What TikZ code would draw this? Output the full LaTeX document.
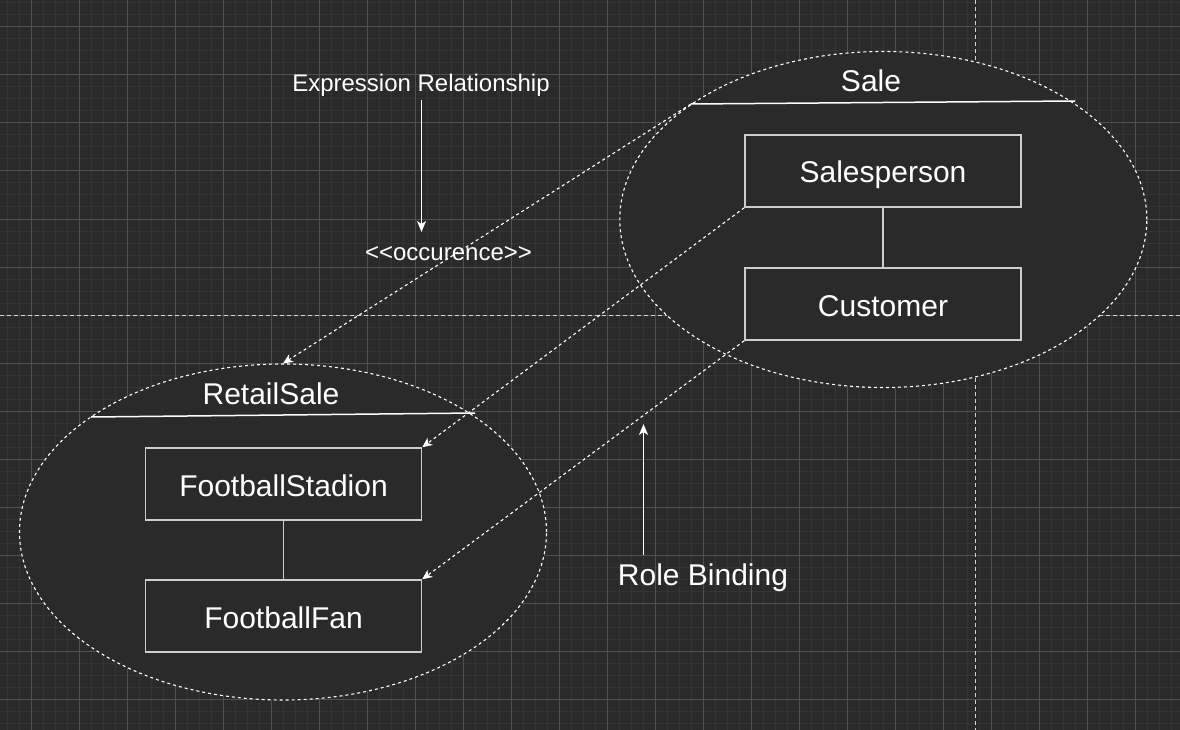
\documentclass[tikz,border=0pt]{standalone}
\usepackage{fontspec}
\setmainfont{Liberation Sans}
\usepackage{tikz}
\usetikzlibrary{arrows.meta,shapes.geometric,positioning}
\definecolor{canvas}{RGB}{42,42,42}
\definecolor{minorgrid}{RGB}{52,52,52}
\definecolor{majorgrid}{RGB}{80,80,80}
\definecolor{boxline}{RGB}{205,205,205}
\tikzset{
  rolebox/.style={draw=boxline, line width=1.5pt, fill=canvas, minimum width=276pt, minimum height=72pt,
    inner sep=0pt, text=white, text height=24pt, text depth=0pt, font=\fontsize{30}{36}\selectfont},
  context/.style={ellipse, draw=white, dash pattern=on 3pt off 3pt, line width=1.1pt, fill=canvas,
    minimum width=527pt, minimum height=336pt, inner sep=0pt},
  title/.style={text=white, anchor=base, inner sep=0pt, font=\fontsize{30}{36}\selectfont},
  note/.style={text=white, anchor=base, inner sep=0pt, font=\fontsize{24}{29}\selectfont},
  binding/.style={draw=white, line width=1.1pt, dash pattern=on 3pt off 3pt, -{Stealth[length=10pt,width=9pt,inset=3pt]}},
  pointer/.style={draw=white, line width=1.5pt, -{Stealth[length=11pt,width=9pt,inset=3pt]}},
  pagebreak/.style={draw=white!80!canvas, line width=1pt, dash pattern=on 4pt off 3pt},
}
\begin{document}
\begin{tikzpicture}[x=1pt,y=-1pt]
\fill[canvas] (0,0) rectangle (1180,730);
\useasboundingbox (0,0) rectangle (1180,730);
% grid
\foreach \x in {7,19,...,1180} \draw[minorgrid,line width=1pt] (\x,0) -- (\x,730);
\foreach \y in {3,15,...,730} \draw[minorgrid,line width=1pt] (0,\y) -- (1180,\y);
\foreach \x in {31,79,...,1180} \draw[majorgrid,line width=1pt] (\x,0) -- (\x,730);
\foreach \y in {27,75,...,730} \draw[majorgrid,line width=1pt] (0,\y) -- (1180,\y);
\draw[pagebreak] (0,315) -- (1180,315);
\draw[pagebreak] (975,0) -- (975,730);

% contexts
\node[context] (sale) at (883.3,219.5) {};
\node[context] (retail) at (283,532) {};
\coordinate (saleL) at (691,104);
\coordinate (saleR) at (1075,101);
\coordinate (retailL) at (91,417);
\coordinate (retailR) at (475,413);
\draw[white,line width=1.5pt] (saleL) -- (saleR);
\draw[white,line width=1.5pt] (retailL) -- (retailR);
\node[title] (saletitle) at (871,92) {Sale};
\node[title] (retailtitle) at (271,404) {RetailSale};

% roles
\node[rolebox] (salesperson) at (883,171) {Salesperson};
\node[rolebox, below=59.5pt of salesperson] (customer) {Customer};
\node[rolebox] (stadion) at (283.5,484) {FootballStadion};
\node[rolebox, below=58.5pt of stadion] (fan) {FootballFan};
\draw[boxline,line width=1.5pt] (salesperson) -- (customer);
\draw[boxline,line width=1.5pt] (stadion) -- (fan);

% bindings
\draw[binding] (saleL) -- (retail.north);
\draw[binding] (salesperson.south west) -- (stadion.north east);
\draw[binding] (customer.south west) -- (fan.north east);

% labels
\node[note] (exprlabel) at (421,92) {Expression Relationship};
\node[note] (occurence) at (448.5,260) {<{}<occurence>{}>};
\coordinate (exprtip) at (421.5,232);
\draw[pointer] (421.5,100) coordinate (exprtail) -- (exprtip);
\node[title] (rolelabel) at (703,585) {Role Binding};
\coordinate (roletip) at (643.5,424);
\draw[pointer] (643.5,555) coordinate (roletail) -- (roletip);
\end{tikzpicture}
\end{document}
